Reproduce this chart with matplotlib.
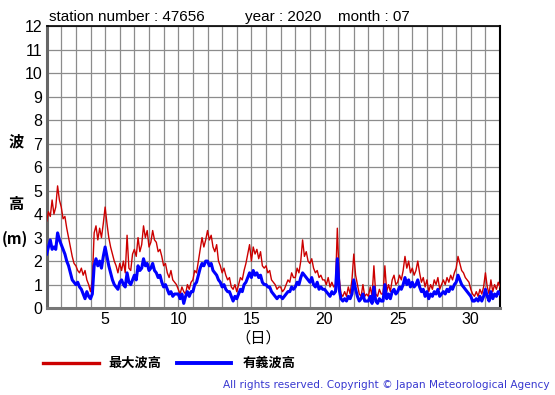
import numpy as np
import matplotlib.pyplot as plt

# 3-hourly readings, one row per day (1..31), last value = day 32 00h
max_wave = [
    3.7, 4.1, 3.9, 4.6, 4.0, 4.3, 5.2, 4.6,
    4.3, 3.8, 3.9, 3.4, 3.0, 2.6, 2.2, 1.9,
    1.8, 1.6, 1.5, 1.7, 1.4, 1.6, 1.2, 1.0,
    0.7, 1.2, 3.2, 3.5, 2.9, 3.4, 3.0, 3.6,
    4.3, 3.6, 3.0, 2.6, 2.3, 2.0, 1.8, 1.5,
    1.9, 1.6, 2.0, 1.5, 3.1, 1.7, 1.6, 2.3,
    2.5, 2.2, 3.0, 2.4, 2.7, 3.5, 3.0, 3.3,
    2.6, 2.8, 3.3, 2.9, 2.8, 2.4, 2.5, 2.2,
    1.8, 1.9, 1.5, 1.3, 1.6, 1.2, 1.1, 1.0,
    0.8, 0.6, 0.9, 0.7, 0.6, 1.0, 0.8, 1.1,
    1.2, 1.6, 1.5, 2.0, 2.5, 3.0, 2.6, 2.9,
    3.3, 2.9, 3.1, 2.6, 2.4, 2.7, 2.0, 1.8,
    1.5, 1.7, 1.4, 1.2, 1.3, 0.9, 0.8, 1.0,
    0.7, 1.0, 1.3, 1.2, 1.6, 1.9, 2.3, 2.7,
    2.0, 2.6, 2.3, 2.5, 2.1, 2.4, 1.8, 1.7,
    1.8, 1.5, 1.6, 1.2, 1.1, 1.0, 0.8, 0.9,
    0.9, 0.7, 0.8, 1.0, 1.2, 1.1, 1.5, 1.3,
    1.3, 1.7, 1.5, 2.0, 2.9, 2.2, 2.4, 2.0,
    1.9, 2.1, 1.7, 1.5, 1.6, 1.3, 1.4, 1.2,
    1.2, 1.0, 1.3, 0.9, 1.1, 0.9, 1.0, 3.4,
    1.3, 0.6, 0.5, 0.7, 0.5, 0.9, 0.6, 1.2,
    2.3, 1.4, 1.0, 0.6, 0.5, 1.0, 0.5, 0.6,
    0.5, 0.9, 0.5, 1.8, 0.6, 0.5, 0.8, 0.6,
    0.6, 1.8, 0.7, 1.0, 0.7, 1.2, 1.4, 1.0,
    1.1, 1.4, 1.2, 1.6, 2.2, 1.7, 2.0, 1.5,
    1.7, 1.4, 1.6, 2.0, 1.5, 1.1, 1.3, 0.9,
    1.2, 0.7, 1.0, 0.8, 1.2, 1.0, 1.3, 0.8,
    1.0, 1.2, 1.0, 1.3, 1.1, 1.4, 1.2, 1.5,
    1.7, 2.2, 1.9, 1.6, 1.5, 1.3, 1.2, 1.1,
    0.8, 0.6, 0.5, 0.7, 0.5, 0.8, 0.6, 0.9,
    1.5, 0.9, 0.6, 1.2, 0.7, 1.0, 0.8, 1.1,
    0.9,
]

sig_wave = [
    2.3, 2.6, 2.9, 2.5, 2.6, 2.5, 3.2, 2.9,
    2.7, 2.5, 2.3, 2.0, 1.8, 1.5, 1.2, 1.1,
    1.0, 1.1, 0.9, 0.8, 0.6, 0.4, 0.7, 0.5,
    0.4, 0.6, 1.8, 2.1, 1.8, 2.0, 1.7, 2.2,
    2.6, 2.2, 1.8, 1.5, 1.2, 1.0, 0.9, 0.8,
    1.1, 1.2, 1.0, 0.9, 1.5, 1.1, 1.0, 1.2,
    1.4, 1.2, 1.8, 1.6, 1.7, 2.1, 1.8, 1.9,
    1.6, 1.7, 1.9, 1.6, 1.5, 1.3, 1.4, 1.1,
    0.9, 1.0, 0.8, 0.6, 0.7, 0.5, 0.6, 0.6,
    0.6, 0.4, 0.6, 0.2, 0.5, 0.7, 0.5, 0.7,
    0.7, 1.0, 1.1, 1.4, 1.7, 1.9, 1.8, 2.0,
    2.0, 1.8, 1.9, 1.6, 1.5, 1.4, 1.2, 1.1,
    0.9, 1.0, 0.8, 0.7, 0.7, 0.5, 0.3, 0.5,
    0.4, 0.6, 0.8, 0.7, 1.0, 1.1, 1.3, 1.5,
    1.3, 1.6, 1.4, 1.5, 1.3, 1.4, 1.1, 1.0,
    1.0, 0.9, 0.9, 0.7, 0.6, 0.5, 0.4, 0.5,
    0.5, 0.4, 0.5, 0.6, 0.7, 0.7, 0.9, 0.8,
    0.9, 1.1, 1.0, 1.3, 1.5, 1.4, 1.3, 1.2,
    1.1, 1.3, 1.0, 0.9, 1.1, 0.8, 0.9, 0.8,
    0.8, 0.7, 0.6, 0.5, 0.7, 0.6, 0.7, 2.1,
    0.8, 0.4, 0.3, 0.4, 0.3, 0.5, 0.4, 0.6,
    1.2, 0.8, 0.5, 0.3, 0.4, 0.6, 0.3, 0.3,
    0.3, 0.5, 0.2, 0.9, 0.3, 0.2, 0.4, 0.3,
    0.3, 1.0, 0.4, 0.6, 0.4, 0.7, 0.8, 0.6,
    0.7, 0.9, 0.8, 1.0, 1.3, 1.0, 1.2, 0.9,
    1.1, 0.9, 1.0, 1.2, 0.9, 0.7, 0.8, 0.5,
    0.7, 0.4, 0.6, 0.5, 0.7, 0.6, 0.8, 0.5,
    0.6, 0.7, 0.6, 0.8, 0.7, 0.9, 0.8, 1.0,
    1.1, 1.4, 1.2, 1.0, 0.9, 0.8, 0.7, 0.6,
    0.5, 0.3, 0.3, 0.4, 0.3, 0.5, 0.3, 0.5,
    0.8, 0.5, 0.3, 0.7, 0.4, 0.6, 0.5, 0.7,
    0.6,
]

days = 1 + np.arange(len(max_wave)) / 8.0
x_ticks = [5, 10, 15, 20, 25, 30]
y_ticks = list(range(0, 13))

jp = ['Noto Sans CJK JP', 'DejaVu Sans']
latin = 'Liberation Sans'

fig = plt.figure(figsize=(5.55, 3.95), dpi=100)
ax = fig.add_axes([0.084, 0.220, 0.817, 0.714])

ax.plot(days, max_wave, color='#cc0000', lw=1.0, zorder=3)
ax.plot(days, sig_wave, color='#0000ff', lw=2.2, zorder=4)

ax.set_xlim(1, 32)
ax.set_ylim(0, 12)
ax.set_xticks(range(1, 33), minor=True)
ax.set_xticks(x_ticks)
ax.set_yticks(y_ticks)
ax.grid(True, which='both', axis='x', color='#8c8c8c', lw=0.9)
ax.grid(True, axis='y', color='#8c8c8c', lw=0.9)
ax.tick_params(which='both', length=0, pad=3, labelsize=11.5)
for lbl in ax.get_xticklabels() + ax.get_yticklabels():
    lbl.set_family(latin)

ax.spines['left'].set_color('#666666')
ax.spines['left'].set_linewidth(2.2)
ax.spines['bottom'].set_color('#777777')
ax.spines['bottom'].set_linewidth(2.2)
ax.spines['top'].set_linewidth(1.2)
ax.spines['right'].set_linewidth(1.5)

# header
fig.text(0.088, 0.958, 'station number : 47656', family=latin, fontsize=11, va='center')
fig.text(0.441, 0.958, 'year : 2020', family=latin, fontsize=11, va='center')
fig.text(0.609, 0.958, 'month : 07', family=latin, fontsize=11, va='center')

# y label, vertical stack
fig.text(0.029, 0.641, '波', family=jp, fontsize=11, weight='bold', ha='center', va='center')
fig.text(0.029, 0.484, '高', family=jp, fontsize=11, weight='bold', ha='center', va='center')
fig.text(0.004, 0.395, '(m)', family=jp, fontsize=11, weight='bold', ha='left', va='center')

# x label
fig.text(0.465, 0.144, '（日）', family=jp, fontsize=11, ha='center', va='center')

# legend
fig.add_artist(plt.Line2D([0.078, 0.178], [0.081, 0.081], color='#cc0000', lw=2.4))
fig.text(0.195, 0.081, '最大波高', family=jp, fontsize=9.5, weight='bold', va='center')
fig.add_artist(plt.Line2D([0.319, 0.417], [0.081, 0.081], color='#0000ff', lw=2.8))
fig.text(0.438, 0.081, '有義波高', family=jp, fontsize=9.5, weight='bold', va='center')

fig.text(0.99, 0.025, 'All rights reserved. Copyright © Japan Meteorological Agency',
         family='DejaVu Sans', fontsize=7.6, color='#3838d0', ha='right', va='center')

fig.savefig('out.png', dpi=100)
